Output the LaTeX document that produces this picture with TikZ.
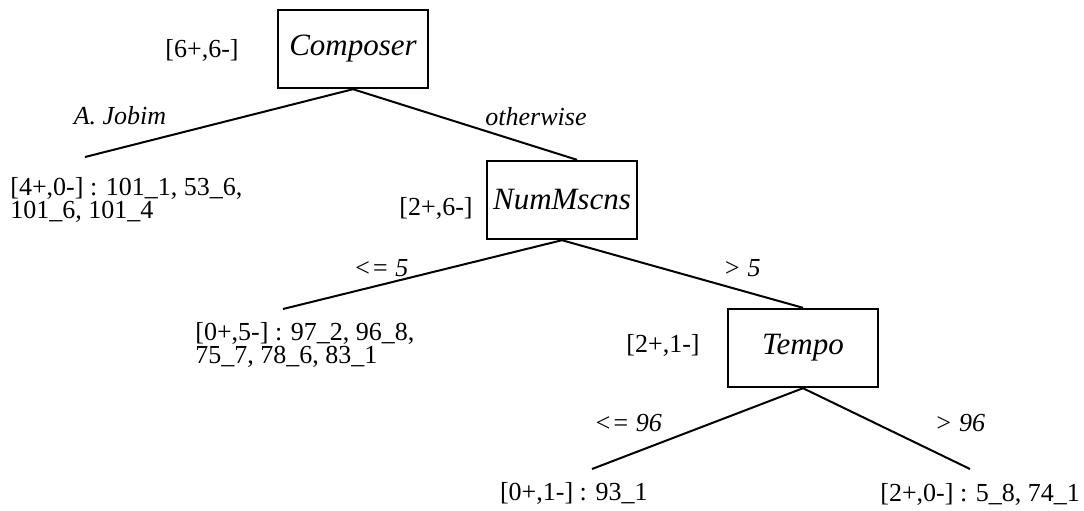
\documentclass[tikz,border=0pt]{standalone}
\usepackage{fontspec}
\setmainfont{Liberation Serif}
\usetikzlibrary{positioning,calc}
\tikzset{
  % attribute tested at an inner node of the tree
  test/.style   = {rectangle, draw, line width=1.2pt, minimum width=75pt,
                   minimum height=39pt, inner sep=0pt,
                   font=\fontsize{15.5}{18}\selectfont\itshape},
  count/.style  = {font=\fontsize{13}{10}\selectfont, inner sep=0pt},
  leaf/.style   = {font=\fontsize{13}{9.6}\selectfont, align=left, inner sep=0pt},
  branch/.style = {font=\fontsize{13}{15}\selectfont\itshape, inner sep=0pt},
  arc/.style    = {line width=1pt},
}

\begin{document}
\begin{tikzpicture}[x=0.5pt,y=-0.5pt]
\useasboundingbox (0,0) rectangle (1084,510);

% ---- tests ----------------------------------------------------------
\node[test] (composer) at (353,49)  {Composer};
\node[test] (numm)     at (562,200) {NumMscns};
\node[test] (tempo)    at (803,348) {Tempo};

% ---- class counts at the tests --------------------------------------
\node[count] (ccomposer) at (202,50)  {[6+,6-]};
\node[count] (cnumm)     at (436,208) {[2+,6-]};
\node[count] (ctempo)    at (663,345) {[2+,1-]};

% ---- leaves ---------------------------------------------------------
\node[leaf, anchor=north west] (ljobim) at (10,177)
      {[4+,0-] : 101\_1, 53\_6,\\101\_6, 101\_4};
\node[leaf, anchor=north west] (lfew)   at (195,322)
      {[0+,5-] : 97\_2, 96\_8,\\75\_7, 78\_6, 83\_1};
\node[leaf, anchor=base east]  (lslow)  at (648,500) {[0+,1-] : 93\_1};
\node[leaf, anchor=base west]  (lfast)  at (880,501) {[2+,0-] : 5\_8, 74\_1};

\coordinate (jobim) at (85,157);
\coordinate (few)   at (283,309);
\coordinate (slow)  at (592,469);
\coordinate (fast)  at (970,469);

% ---- branches -------------------------------------------------------
\draw[arc] (composer.south) -- (jobim);
\draw[arc] (composer.south) -- ([xshift=7.5pt]numm.north);
\draw[arc] (numm.south) -- (few);
\draw[arc] (numm.south) -- (tempo.north);
\draw[arc] (tempo.south) -- (slow);
\draw[arc] (tempo.south) -- (fast);

\node[branch] (bjobim) at (120,116) {A. Jobim};
\node[branch] (bother) at (536,117) {otherwise};
\node[branch] (bfew)   at (381,268) {<= 5};
\node[branch] (bmany)  at (742,268) {> 5};
\node[branch] (bslow)  at (628,423) {<= 96};
\node[branch] (bfast)  at (960,423) {> 96};
\end{tikzpicture}
\end{document}
